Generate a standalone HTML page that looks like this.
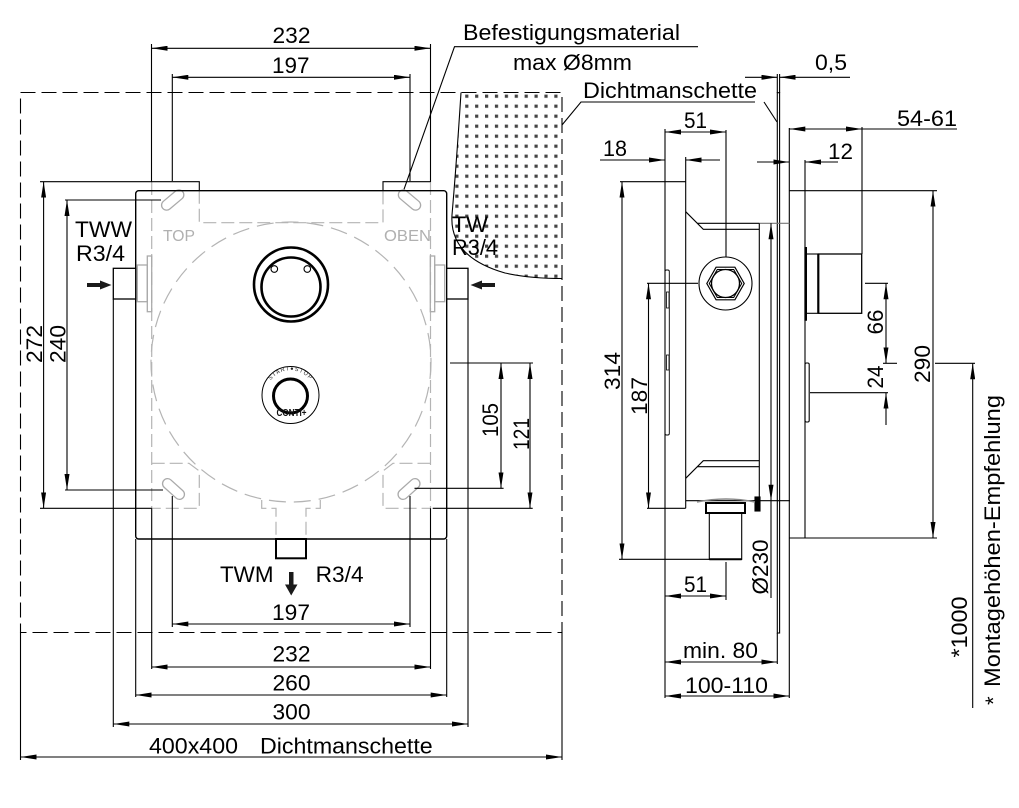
<!DOCTYPE html>
<html><head><meta charset="utf-8"><style>
html,body{margin:0;padding:0;background:#fff;}
svg{display:block;}
</style></head><body>
<svg width="1019" height="808" viewBox="0 0 1019 808" xmlns="http://www.w3.org/2000/svg">
<defs>
<marker id="a" viewBox="0 0 16 5" refX="16" refY="2.5" markerWidth="16" markerHeight="5" markerUnits="userSpaceOnUse" orient="auto-start-reverse"><path d="M0,0 L16,2.5 L0,5 z" fill="#000"/></marker>
<pattern id="h" x="465.2" y="94.6" width="9.9" height="10" patternUnits="userSpaceOnUse"><rect width="3.2" height="3.2" fill="#444"/></pattern>
</defs>
<rect width="1019" height="808" fill="#fff"/>

<!-- hatch region -->
<path d="M461,92.5 C458,140 455,180 452,215 C450,245 470,263 505,273 C528,278 548,278.5 562,278.5 L562,92.5 Z" fill="url(#h)" stroke="none"/>

<!-- gray hidden lines -->
<g stroke="#b4b4b4" stroke-width="1.2" fill="none" stroke-dasharray="13 5">
<circle cx="291" cy="362" r="140" stroke-dasharray="17 8"/>
<line x1="151.7" y1="182" x2="151.7" y2="508.3"/>
<line x1="430.5" y1="182" x2="430.5" y2="508.3"/>
<polyline points="199.3,190.7 199.3,222.7 383,222.7 383,190.7"/>
<polyline points="151.7,463.3 189,463.3 199.3,471 199.3,508.3 151.7,508.3"/>
<polyline points="430.5,463.3 393,463.3 383,471 383,508.3 430.5,508.3"/>
<polyline points="261.7,500 261.7,508.3 276,508.3 276,539"/>
<polyline points="320.3,500 320.3,508.3 306,508.3 306,539"/>
</g>
<g stroke="#aaa" stroke-width="1.3" fill="none">
<rect x="-13" y="-5" width="26" height="10" rx="5" transform="translate(172.7,200) rotate(-40)"/>
<rect x="-13" y="-5" width="26" height="10" rx="5" transform="translate(409.5,200) rotate(40)"/>
<rect x="-13" y="-5" width="26" height="10" rx="5" transform="translate(173.5,489) rotate(42)"/>
<rect x="-13" y="-5" width="26" height="10" rx="5" transform="translate(409,489) rotate(-42)"/>
<rect x="137.3" y="265" width="10" height="36.7"/>
<rect x="147.3" y="256" width="4.4" height="55.7"/>
<rect x="434.7" y="265" width="10" height="36.7"/>
<rect x="430.3" y="256" width="4.4" height="55.7"/>
</g>

<g stroke="#000" stroke-width="1.1" fill="none">
<!-- dashed outer seal -->
<rect x="20.5" y="92.5" width="541.5" height="540" stroke-dasharray="15 6"/>
<path d="M461,92.5 C458,140 455,180 452,215 C450,245 470,263 505,273 C528,278 548,278.5 562,278.5"/>

<!-- top dims -->
<line x1="151.5" y1="48.3" x2="430.5" y2="48.3" marker-start="url(#a)" marker-end="url(#a)"/>
<line x1="172.3" y1="77.3" x2="410" y2="77.3" marker-start="url(#a)" marker-end="url(#a)"/>
<line x1="151.5" y1="44" x2="151.5" y2="182"/>
<line x1="430.5" y1="44" x2="430.5" y2="182"/>
<line x1="172.3" y1="74" x2="172.3" y2="181"/>
<line x1="410" y1="74" x2="410" y2="181"/>
<polyline points="40,181.7 199.3,181.7 199.3,190.7"/>
<polyline points="430.5,181.7 383,181.7 383,190.7"/>

<!-- leaders -->
<polyline points="404,189.3 454.5,46.7 698,46.7"/>
<polyline points="562,125 581,102 755,102"/>
<line x1="764" y1="102" x2="777" y2="122"/>

<!-- body -->
<rect x="135.7" y="190.7" width="311" height="348.3" rx="3" stroke-width="1.4"/>
<rect x="113.3" y="268.3" width="22.4" height="30.7" stroke-width="1.3" fill="#fff"/>
<rect x="446.7" y="268.3" width="21.3" height="30.7" stroke-width="1.3" fill="#fff"/>
<rect x="276" y="539" width="30" height="19.3" stroke-width="2"/>

<!-- left dims -->
<line x1="40" y1="508.3" x2="151.7" y2="508.3"/>
<line x1="43.6" y1="181.7" x2="43.6" y2="508.3" marker-start="url(#a)" marker-end="url(#a)"/>
<line x1="65" y1="200" x2="161" y2="200"/>
<line x1="65" y1="490" x2="163" y2="490"/>
<line x1="67" y1="200" x2="67" y2="490" marker-start="url(#a)" marker-end="url(#a)"/>

<!-- right dims -->
<line x1="450" y1="363" x2="533" y2="363"/>
<line x1="414.5" y1="488.3" x2="503.6" y2="488.3"/>
<line x1="432.7" y1="508.3" x2="532.7" y2="508.3"/>
<line x1="501" y1="363" x2="501" y2="488.3" marker-start="url(#a)" marker-end="url(#a)"/>
<line x1="530" y1="363" x2="530" y2="508.3" marker-start="url(#a)" marker-end="url(#a)"/>

<!-- bottom extension lines -->
<line x1="113.3" y1="299" x2="113.3" y2="727"/>
<line x1="468" y1="299" x2="468" y2="727"/>
<line x1="135.7" y1="539" x2="135.7" y2="697"/>
<line x1="446.7" y1="539" x2="446.7" y2="697"/>
<line x1="151.7" y1="508.3" x2="151.7" y2="669"/>
<line x1="430.5" y1="508.3" x2="430.5" y2="669"/>
<line x1="172.3" y1="496" x2="172.3" y2="627"/>
<line x1="410" y1="496" x2="410" y2="627"/>
<line x1="20.5" y1="632.5" x2="20.5" y2="760"/>
<line x1="562" y1="632.5" x2="562" y2="760"/>

<line x1="172.3" y1="624" x2="410" y2="624" marker-start="url(#a)" marker-end="url(#a)"/>
<line x1="151.7" y1="667" x2="430.5" y2="667" marker-start="url(#a)" marker-end="url(#a)"/>
<line x1="135.7" y1="695" x2="446.7" y2="695" marker-start="url(#a)" marker-end="url(#a)"/>
<line x1="113.3" y1="724" x2="468" y2="724" marker-start="url(#a)" marker-end="url(#a)"/>
<line x1="20.5" y1="757" x2="562" y2="757" marker-start="url(#a)" marker-end="url(#a)"/>

<!-- knobs -->
<circle cx="291" cy="284.5" r="37" stroke-width="2.6"/>
<circle cx="291" cy="287" r="29.5" stroke-width="2.6"/>
<circle cx="274.3" cy="269" r="3.3" stroke-width="1.1"/>
<circle cx="307.3" cy="269" r="3.3" stroke-width="1.1"/>
<circle cx="290.5" cy="395" r="28.5" stroke-width="1"/>
<circle cx="290.5" cy="396" r="17" stroke-width="3"/>

<!-- ===== SIDE VIEW ===== -->
<rect x="777.3" y="92.7" width="2.3" height="540.3"/>
<line x1="777.3" y1="74" x2="777.3" y2="93"/>
<line x1="779.6" y1="74" x2="779.6" y2="93"/>
<line x1="745" y1="77.3" x2="777.3" y2="77.3" marker-end="url(#a)"/>
<line x1="850" y1="77.3" x2="779.6" y2="77.3" marker-end="url(#a)"/>
<line x1="777.3" y1="633" x2="777.3" y2="664"/>

<line x1="789.3" y1="128" x2="789.3" y2="698"/>
<line x1="862" y1="127" x2="862" y2="254"/>
<line x1="789.3" y1="129" x2="862" y2="129" marker-start="url(#a)" marker-end="url(#a)"/>
<line x1="862" y1="129" x2="957" y2="129"/>
<line x1="805" y1="160" x2="805" y2="538"/>
<line x1="757" y1="162" x2="789.3" y2="162" marker-end="url(#a)"/>
<line x1="838" y1="162" x2="805" y2="162" marker-end="url(#a)"/>

<line x1="789.3" y1="190.7" x2="937" y2="190.7"/>
<line x1="789.3" y1="538" x2="937" y2="538"/>
<line x1="933" y1="190.7" x2="933" y2="538" marker-start="url(#a)" marker-end="url(#a)"/>

<rect x="818.3" y="254" width="43.4" height="59.3" stroke-width="1.3"/>
<line x1="818.3" y1="254" x2="818.3" y2="313.3" stroke-width="2.2"/>
<line x1="805.7" y1="247" x2="805.7" y2="320.7" stroke-width="2.6"/>
<line x1="805.7" y1="254" x2="818.3" y2="254"/>
<line x1="805.7" y1="313.3" x2="818.3" y2="313.3"/>
<rect x="805" y="363" width="4.2" height="59" rx="1.5"/>

<line x1="865" y1="283.3" x2="888" y2="283.3"/>
<line x1="883" y1="363.3" x2="897" y2="363.3"/>
<line x1="810" y1="392.7" x2="888" y2="392.7"/>
<line x1="886" y1="283.3" x2="886" y2="363.3" marker-start="url(#a)" marker-end="url(#a)"/>
<line x1="886" y1="425" x2="886" y2="392.7" marker-end="url(#a)"/>

<line x1="935" y1="363.3" x2="975" y2="363.3"/>
<line x1="972.7" y1="363.3" x2="972.7" y2="708" marker-start="url(#a)"/>

<line x1="620" y1="181.7" x2="685.7" y2="181.7"/>
<line x1="665" y1="129" x2="665" y2="698"/>
<line x1="685.7" y1="157" x2="685.7" y2="508.3"/>
<line x1="647" y1="508.3" x2="685.7" y2="508.3"/>
<line x1="726" y1="130" x2="726" y2="257"/>
<polyline points="685.7,211.7 703.3,229.3 759.3,229.3"/>
<line x1="697.3" y1="223.3" x2="759.3" y2="223.3"/>
<line x1="759.3" y1="223.3" x2="789.3" y2="223.3" stroke="#777"/>
<line x1="759.3" y1="223.3" x2="759.3" y2="500"/>
<polyline points="685.7,478.3 703.3,460.7 759.3,460.7"/>
<line x1="697.3" y1="466.7" x2="759.3" y2="466.7"/>
<line x1="685.7" y1="500.7" x2="790" y2="500.7"/>
<rect x="755" y="497" width="5" height="14" fill="#000"/>
<path d="M697,502 Q726,496 755,502" stroke="#888" stroke-width="1.5"/>
<rect x="706" y="503" width="39" height="10" stroke-width="2"/>
<polyline points="709.3,513 709.3,559.3 741.7,559.3 741.7,513"/>
<line x1="709.3" y1="559.3" x2="741.7" y2="559.3" stroke-width="2"/>
<rect x="665" y="270" width="4.3" height="165" rx="1.5" stroke-width="0.9"/>
<rect x="666.5" y="292" width="2.5" height="16" stroke-width="0.8"/>
<rect x="666.5" y="355" width="2.5" height="15" stroke-width="0.8"/>

<circle cx="725.5" cy="283.5" r="26.5"/>
<polygon points="706.8,283.5 716.1,267.2 734.9,267.2 744.2,283.5 734.9,299.8 716.1,299.8" stroke-width="1.2"/>
<polygon points="709.3,283.5 717.3,269.5 733.7,269.5 741.7,283.5 733.7,297.5 717.3,297.5"/>
<circle cx="725.5" cy="283.5" r="14" stroke-width="1.3"/>

<line x1="647" y1="283.3" x2="698" y2="283.3"/>
<line x1="648.5" y1="283.3" x2="648.5" y2="508.3" marker-start="url(#a)" marker-end="url(#a)"/>
<line x1="619" y1="559.3" x2="742" y2="559.3"/>
<line x1="622" y1="181.7" x2="622" y2="559.3" marker-start="url(#a)" marker-end="url(#a)"/>

<line x1="771" y1="223.3" x2="771" y2="500.7" marker-start="url(#a)" marker-end="url(#a)"/>
<line x1="771" y1="500.7" x2="771" y2="598"/>

<line x1="600" y1="160" x2="665" y2="160" marker-end="url(#a)"/>
<line x1="720" y1="160" x2="685.7" y2="160" marker-end="url(#a)"/>
<line x1="665" y1="132" x2="726" y2="132" marker-start="url(#a)" marker-end="url(#a)"/>
<line x1="726" y1="562" x2="726" y2="600"/>
<line x1="665" y1="596" x2="726" y2="596" marker-start="url(#a)" marker-end="url(#a)"/>
<line x1="665" y1="662" x2="777.3" y2="662" marker-start="url(#a)" marker-end="url(#a)"/>
<line x1="665" y1="696" x2="789.3" y2="696" marker-start="url(#a)" marker-end="url(#a)"/>
</g>

<g fill="#1a1a1a">
<polygon points="87,283 100,283 100,280.5 111.5,285 100,289.5 100,287 87,287"/>
<polygon points="495,283 482,283 482,280.5 470.5,285 482,289.5 482,287 495,287"/>
<polygon points="289,572 293.5,572 293.5,584.5 297.5,584.5 291.2,595.5 285,584.5 289,584.5"/>
</g>

<defs><path id="arc" d="M268.5,384 A24.5 24.5 0 0 1 312.5,384"/></defs>
<text font-family="Liberation Sans, Arial, sans-serif" font-size="5.5" fill="#222" letter-spacing="1"><textPath href="#arc" startOffset="50%" text-anchor="middle">START●STOP</textPath></text>
<text x="276.5" y="416" font-family="Liberation Sans, Arial, sans-serif" font-size="10" font-weight="bold" fill="#111" textLength="30" lengthAdjust="spacingAndGlyphs">CONTI+</text>

<g font-family="Liberation Sans, Arial, sans-serif" font-size="16" fill="#b0b0b0">
<text x="163" y="241" textLength="32" lengthAdjust="spacingAndGlyphs">TOP</text>
<text x="384" y="241" textLength="47" lengthAdjust="spacingAndGlyphs">OBEN</text>
</g>

<g font-family="Liberation Sans, Arial, sans-serif" font-size="22" fill="#000">
<text x="272.5" y="43" textLength="38" lengthAdjust="spacingAndGlyphs">232</text>
<text x="272" y="73" textLength="37.5" lengthAdjust="spacingAndGlyphs">197</text>
<text x="463" y="40" textLength="217" lengthAdjust="spacingAndGlyphs">Befestigungsmaterial</text>
<text x="513" y="70" textLength="119" lengthAdjust="spacingAndGlyphs">max Ø8mm</text>
<text x="583" y="98" textLength="174" lengthAdjust="spacingAndGlyphs">Dichtmanschette</text>
<text x="815" y="70" textLength="32" lengthAdjust="spacingAndGlyphs">0,5</text>
<text x="897" y="126" textLength="60" lengthAdjust="spacingAndGlyphs">54-61</text>
<text x="684" y="128" textLength="23" lengthAdjust="spacingAndGlyphs">51</text>
<text x="603" y="156" textLength="24" lengthAdjust="spacingAndGlyphs">18</text>
<text x="828" y="159" textLength="25" lengthAdjust="spacingAndGlyphs">12</text>
<text x="75" y="237" textLength="57" lengthAdjust="spacingAndGlyphs">TWW</text>
<text x="76" y="261" textLength="49" lengthAdjust="spacingAndGlyphs">R3/4</text>
<text x="452" y="232" textLength="36" lengthAdjust="spacingAndGlyphs">TW</text>
<text x="452" y="255" textLength="46" lengthAdjust="spacingAndGlyphs">R3/4</text>
<text x="220" y="582" textLength="53.5" lengthAdjust="spacingAndGlyphs">TWM</text>
<text x="315.6" y="582" textLength="48" lengthAdjust="spacingAndGlyphs">R3/4</text>
<text x="272" y="620" textLength="38" lengthAdjust="spacingAndGlyphs">197</text>
<text x="272.5" y="661.7" textLength="38" lengthAdjust="spacingAndGlyphs">232</text>
<text x="272.5" y="690.7" textLength="38" lengthAdjust="spacingAndGlyphs">260</text>
<text x="272.5" y="719.3" textLength="38" lengthAdjust="spacingAndGlyphs">300</text>
<text x="149" y="753.3" textLength="89" lengthAdjust="spacingAndGlyphs">400x400</text>
<text x="260" y="753.3" textLength="172.7" lengthAdjust="spacingAndGlyphs">Dichtmanschette</text>
<text x="684" y="592" textLength="23" lengthAdjust="spacingAndGlyphs">51</text>
<text x="683" y="658" textLength="75" lengthAdjust="spacingAndGlyphs">min. 80</text>
<text x="685" y="693" textLength="83" lengthAdjust="spacingAndGlyphs">100-110</text>

<text transform="translate(42,344) rotate(-90)" x="-19" y="0" textLength="38" lengthAdjust="spacingAndGlyphs">272</text>
<text transform="translate(65.5,344) rotate(-90)" x="-19" y="0" textLength="38" lengthAdjust="spacingAndGlyphs">240</text>
<text transform="translate(498,420) rotate(-90)" x="-17" y="0" textLength="34" lengthAdjust="spacingAndGlyphs">105</text>
<text transform="translate(529,434) rotate(-90)" x="-16" y="0" textLength="32" lengthAdjust="spacingAndGlyphs">121</text>
<text transform="translate(620,371) rotate(-90)" x="-19" y="0" textLength="38" lengthAdjust="spacingAndGlyphs">314</text>
<text transform="translate(647,396) rotate(-90)" x="-19" y="0" textLength="38" lengthAdjust="spacingAndGlyphs">187</text>
<text transform="translate(883,322) rotate(-90)" x="-12.5" y="0" textLength="25" lengthAdjust="spacingAndGlyphs">66</text>
<text transform="translate(883,377) rotate(-90)" x="-11.5" y="0" textLength="23" lengthAdjust="spacingAndGlyphs">24</text>
<text transform="translate(930,364) rotate(-90)" x="-19" y="0" textLength="38" lengthAdjust="spacingAndGlyphs">290</text>
<text transform="translate(768,567) rotate(-90)" x="-27.5" y="0" textLength="55" lengthAdjust="spacingAndGlyphs">Ø230</text>
<text transform="translate(967,627) rotate(-90)" x="-30.5" y="0" textLength="61" lengthAdjust="spacingAndGlyphs">*1000</text>
<text transform="translate(1001,0) rotate(-90)" x="-705" y="0">*</text>
<text transform="translate(1000,0) rotate(-90)" x="-687" y="0" textLength="292" lengthAdjust="spacingAndGlyphs">Montagehöhen-Empfehlung</text>
</g>
</svg>
</body></html>
